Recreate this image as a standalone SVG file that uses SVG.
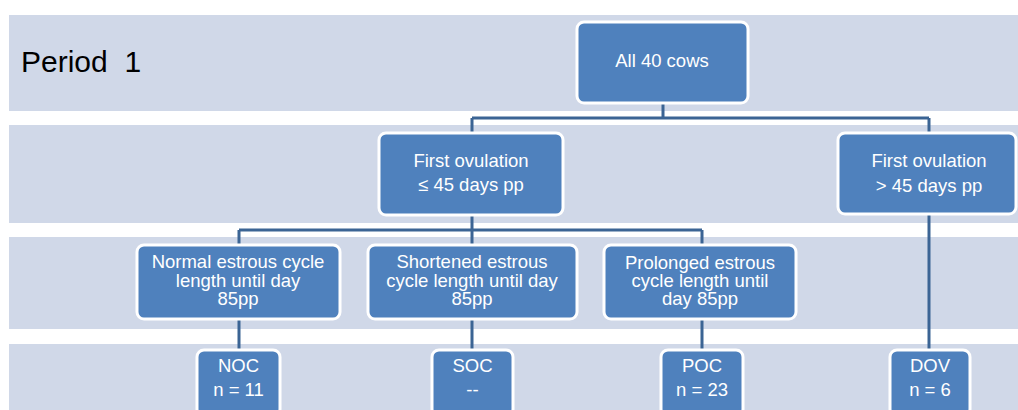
<svg xmlns="http://www.w3.org/2000/svg" width="1018" height="410" viewBox="0 0 1018 410">
  <style>
    .band { fill: #D0D8E8; }
    .box { fill: #4F81BD; stroke: #FFFFFF; stroke-width: 3; }
    .lbl { font-family: "Liberation Sans", Arial, sans-serif; font-size: 18.5px; fill: #FFFFFF; text-anchor: middle; }
    .title { font-family: "Liberation Sans", Arial, sans-serif; font-size: 30px; fill: #000000; }
    .conn { fill: none; stroke: #3B6494; stroke-width: 3; }
  </style>
  <rect width="1018" height="410" fill="#FFFFFF"/>
  <g id="bands">
    <rect class="band" x="9" y="15" width="1009" height="96"/>
    <rect class="band" x="9" y="125" width="1009" height="98"/>
    <rect class="band" x="9" y="237" width="1009" height="92"/>
    <rect class="band" x="9" y="344" width="1009" height="66"/>
  </g>
  <text class="title" x="21" y="72" xml:space="preserve">Period  1</text>
  <g id="connectors">
    <path class="conn" d="M663,103 V118 M472,118 H929 M472,118 V134 M929,118 V134"/>
    <path class="conn" d="M472,214 V230 M239,230 H702 M239,230 V245 M472,230 V245 M702,230 V245"/>
    <path class="conn" d="M929,214 V350"/>
    <path class="conn" d="M239,319 V351 M472,320 V351 M702,320 V351"/>
  </g>
  <g id="n-all">
    <rect class="box" x="577" y="22" width="171" height="81" rx="7"/>
    <text class="lbl" x="662" y="67">All 40 cows</text>
  </g>
  <g id="n-early">
    <rect class="box" x="379" y="133" width="184" height="82" rx="7"/>
    <text class="lbl" x="471" y="167">First ovulation</text>
    <text class="lbl" x="471" y="191">≤ 45 days pp</text>
  </g>
  <g id="n-late">
    <rect class="box" x="838" y="133" width="178" height="81" rx="7"/>
    <text class="lbl" x="929" y="167">First ovulation</text>
    <text class="lbl" x="929" y="192">&gt; 45 days pp</text>
  </g>
  <g id="n-normal">
    <rect class="box" x="137" y="245" width="203" height="74" rx="7"/>
    <text class="lbl" x="238" y="268">Normal estrous cycle</text>
    <text class="lbl" x="238" y="287">length until day</text>
    <text class="lbl" x="238" y="305">85pp</text>
  </g>
  <g id="n-short">
    <rect class="box" x="368" y="245" width="209" height="74" rx="7"/>
    <text class="lbl" x="472" y="268">Shortened estrous</text>
    <text class="lbl" x="472" y="287">cycle length until day</text>
    <text class="lbl" x="472" y="305">85pp</text>
  </g>
  <g id="n-prolonged">
    <rect class="box" x="604" y="245" width="192" height="74" rx="7"/>
    <text class="lbl" x="700" y="269">Prolonged estrous</text>
    <text class="lbl" x="700" y="287">cycle length until</text>
    <text class="lbl" x="700" y="305">day 85pp</text>
  </g>
  <g id="n-noc">
    <rect class="box" x="197" y="350" width="83" height="66" rx="7"/>
    <text class="lbl" x="238.5" y="372">NOC</text>
    <text class="lbl" x="238.5" y="396">n = 11</text>
  </g>
  <g id="n-soc">
    <rect class="box" x="432" y="350" width="81" height="66" rx="7"/>
    <text class="lbl" x="472.5" y="372">SOC</text>
    <text class="lbl" x="472.5" y="396">--</text>
  </g>
  <g id="n-poc">
    <rect class="box" x="661" y="350" width="82" height="66" rx="7"/>
    <text class="lbl" x="702" y="372">POC</text>
    <text class="lbl" x="702" y="396">n = 23</text>
  </g>
  <g id="n-dov">
    <rect class="box" x="890" y="350" width="80" height="66" rx="7"/>
    <text class="lbl" x="930" y="372">DOV</text>
    <text class="lbl" x="930" y="396">n = 6</text>
  </g>
</svg>
